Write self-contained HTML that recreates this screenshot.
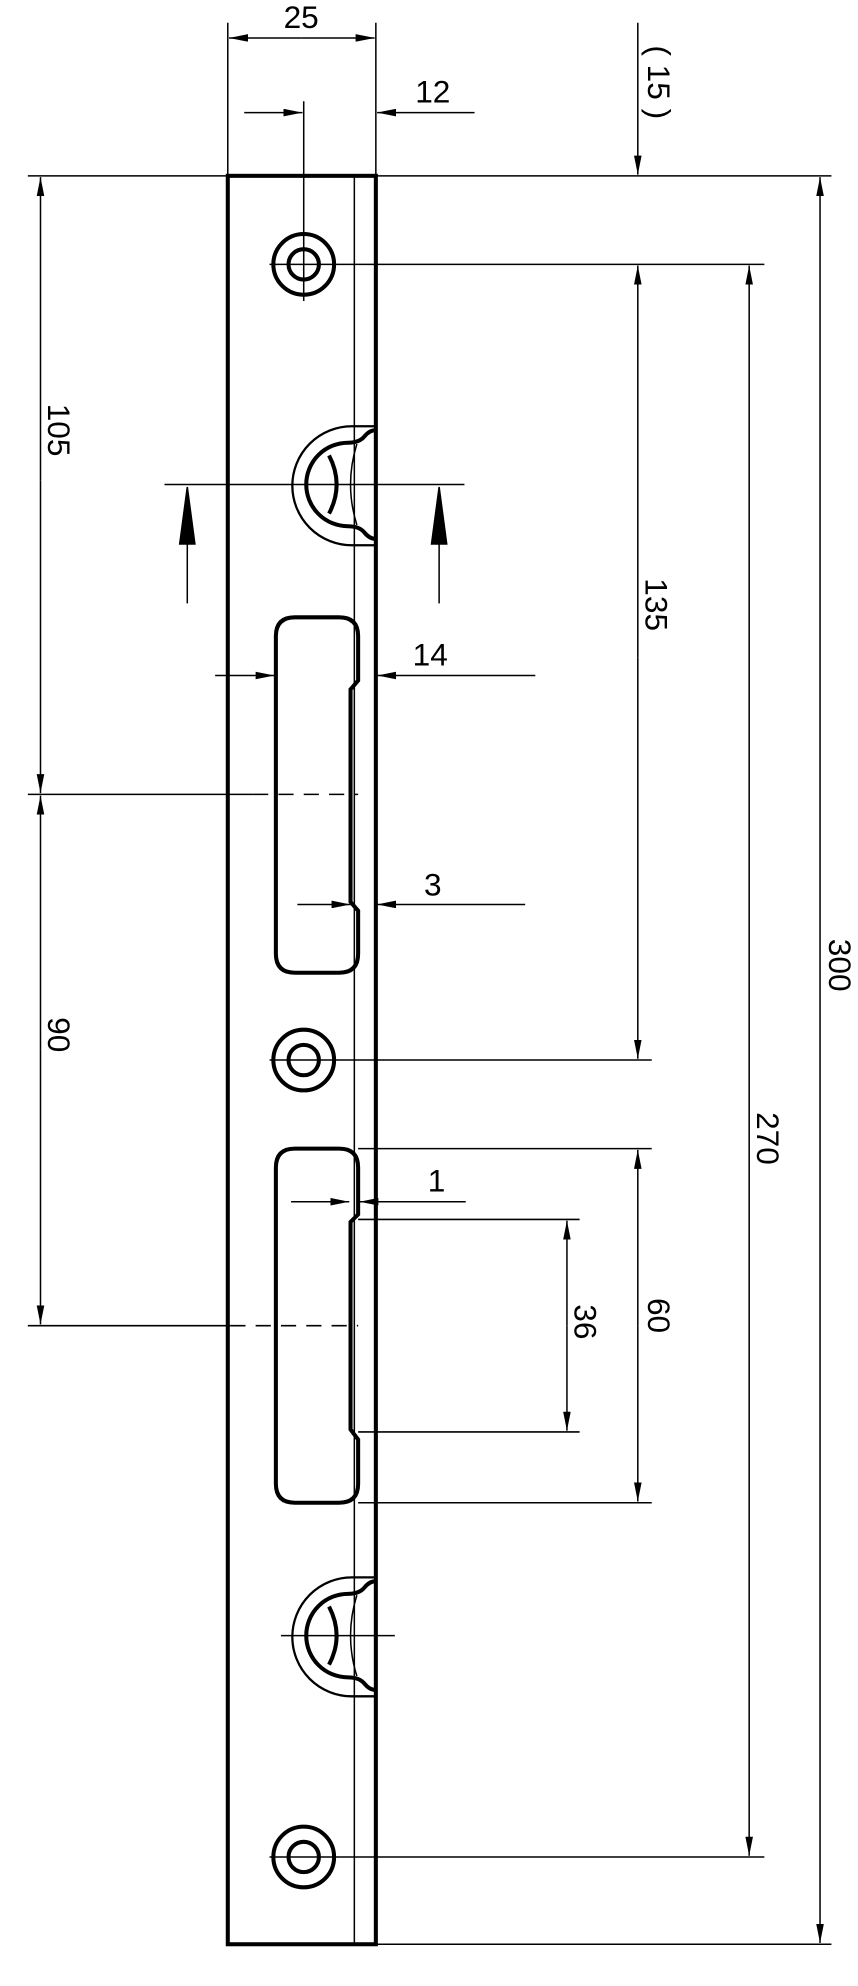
<!DOCTYPE html>
<html><head><meta charset="utf-8"><style>html,body{margin:0;padding:0;background:#fff}svg{display:block}</style></head>
<body>
<svg width="858" height="1986" viewBox="0 0 678 1570" preserveAspectRatio="none" xmlns="http://www.w3.org/2000/svg" font-family="Liberation Sans, sans-serif" font-size="25" fill="none" stroke="#000">
<defs>
<marker id="a" viewBox="0 0 15 6" refX="15" refY="3" markerWidth="15" markerHeight="6" markerUnits="userSpaceOnUse" orient="auto"><path d="M0 0L15 3L0 6z" fill="#000" stroke="none"/></marker>
</defs>
<g stroke-width="1.2">
<line x1="22" y1="139" x2="657" y2="139"/>
<line x1="180" y1="18" x2="180" y2="139"/><line x1="297" y1="18" x2="297" y2="139"/>
<line x1="238" y1="30" x2="181" y2="30" marker-end="url(#a)"/><line x1="238" y1="30" x2="296" y2="30" marker-end="url(#a)"/>
<line x1="240" y1="80" x2="240" y2="238"/>
<line x1="193" y1="89" x2="239" y2="89" marker-end="url(#a)"/>
<line x1="375" y1="89" x2="298" y2="89" marker-end="url(#a)"/>
<line x1="504" y1="18" x2="504" y2="138" marker-end="url(#a)"/>
<line x1="213" y1="209" x2="604" y2="209"/>
<line x1="504" y1="520" x2="504" y2="210" marker-end="url(#a)"/>
<line x1="504" y1="520" x2="504" y2="837" marker-end="url(#a)"/>
<line x1="213" y1="838" x2="515" y2="838"/>
<line x1="592" y1="800" x2="592" y2="210" marker-end="url(#a)"/>
<line x1="592" y1="800" x2="592" y2="1467" marker-end="url(#a)"/>
<line x1="213" y1="1468" x2="604" y2="1468"/>
<line x1="648" y1="800" x2="648" y2="140" marker-end="url(#a)"/>
<line x1="648" y1="800" x2="648" y2="1536" marker-end="url(#a)"/>
<line x1="297" y1="1537" x2="657" y2="1537"/>
<line x1="32" y1="380" x2="32" y2="140" marker-end="url(#a)"/>
<line x1="32" y1="380" x2="32" y2="627" marker-end="url(#a)"/>
<line x1="32" y1="830" x2="32" y2="629" marker-end="url(#a)"/>
<line x1="32" y1="830" x2="32" y2="1047" marker-end="url(#a)"/>
<line x1="22" y1="628" x2="200" y2="628"/><line x1="200" y1="628" x2="283" y2="628" stroke-dasharray="12,8"/>
<line x1="22" y1="1048" x2="182" y2="1048"/><line x1="182" y1="1048" x2="283" y2="1048" stroke-dasharray="12,8"/>
<line x1="130" y1="383" x2="367" y2="383"/>
<line x1="148" y1="477" x2="148" y2="430"/><path d="M142 430L148 385L154 430z" fill="#000"/>
<line x1="347" y1="477" x2="347" y2="430"/><path d="M341 430L347 385L353 430z" fill="#000"/>
<line x1="222" y1="1293" x2="312" y2="1293"/>
<line x1="170" y1="534" x2="217" y2="534" marker-end="url(#a)"/>
<line x1="423" y1="534" x2="298" y2="534" marker-end="url(#a)"/>
<line x1="235" y1="715" x2="277" y2="715" marker-end="url(#a)"/>
<line x1="415" y1="715" x2="298" y2="715" marker-end="url(#a)"/>
<line x1="283" y1="908" x2="515" y2="908"/><line x1="283" y1="1188" x2="515" y2="1188"/>
<line x1="504" y1="1048" x2="504" y2="909" marker-end="url(#a)"/>
<line x1="504" y1="1048" x2="504" y2="1187" marker-end="url(#a)"/>
<line x1="283" y1="964" x2="458" y2="964"/><line x1="283" y1="1132" x2="458" y2="1132"/>
<line x1="448" y1="1048" x2="448" y2="965" marker-end="url(#a)"/>
<line x1="448" y1="1048" x2="448" y2="1131" marker-end="url(#a)"/>
<line x1="230" y1="950" x2="276" y2="950" marker-end="url(#a)"/>
<line x1="368" y1="950" x2="284" y2="950" marker-end="url(#a)"/>
<line x1="280" y1="139" x2="280" y2="1537"/>
<path d="M282 351Q272 383 282 415"/>
<path d="M282 1261Q272 1293 282 1325"/>
</g>
<g stroke-width="1.8">
<path d="M297 337H278A47 47 0 0 0 278 431H297"/>
<path d="M297 1247H278A47 47 0 0 0 278 1341H297"/>
</g>
<g stroke-width="3.2">
<rect x="180" y="139" width="117" height="1398"/>
<circle cx="240" cy="209" r="24"/><circle cx="240" cy="209" r="12"/>
<circle cx="240" cy="838" r="24"/><circle cx="240" cy="838" r="12"/>
<circle cx="240" cy="1468" r="24"/><circle cx="240" cy="1468" r="12"/>
<path d="M297 340Q292 340 288 345Q284 350 275 350A33 33 0 0 0 275 416Q284 416 288 421Q292 426 297 426"/>
<path d="M260 360Q272 383 260 406"/>
<path d="M297 1250Q292 1250 288 1255Q284 1260 275 1260A33 33 0 0 0 275 1326Q284 1326 288 1331Q292 1336 297 1336"/>
<path d="M260 1270Q272 1293 260 1316"/>
<path d="M233 488H268Q283 488 283 503V538L277 545V713L283 720V754Q283 769 268 769H233Q218 769 218 754V503Q218 488 233 488Z"/>
<path d="M233 908H268Q283 908 283 923V960L277 966V1130L283 1138V1173Q283 1188 268 1188H233Q218 1188 218 1173V923Q218 908 233 908Z"/>
</g>
<g fill="#000" stroke="none">
<text x="238" y="22" text-anchor="middle">25</text>
<text x="342" y="81" text-anchor="middle">12</text>
<text x="340" y="526" text-anchor="middle">14</text>
<text x="342" y="708" text-anchor="middle">3</text>
<text x="345" y="942" text-anchor="middle">1</text>
<text transform="translate(512,65) rotate(90)" text-anchor="middle">( 15 )</text>
<text transform="translate(510,478) rotate(90)" text-anchor="middle">135</text>
<text transform="translate(598,900) rotate(90)" text-anchor="middle">270</text>
<text transform="translate(655,763) rotate(90)" text-anchor="middle">300</text>
<text transform="translate(38,340) rotate(90)" text-anchor="middle">105</text>
<text transform="translate(38,818) rotate(90)" text-anchor="middle">90</text>
<text transform="translate(454,1045) rotate(90)" text-anchor="middle">36</text>
<text transform="translate(512,1040) rotate(90)" text-anchor="middle">60</text>
</g>
</svg>
</body></html>
